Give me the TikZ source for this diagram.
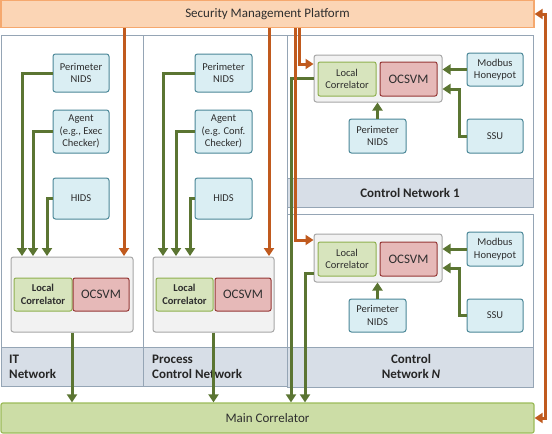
\documentclass[tikz,border=0pt]{standalone}
\usepackage{fontspec}
\setmainfont{Carlito}
\usetikzlibrary{arrows.meta}
\definecolor{bluF}{HTML}{DAEEF3}
\definecolor{bluB}{HTML}{4A8797}
\definecolor{lcF}{HTML}{D7E4BD}
\definecolor{lcB}{HTML}{8FB04F}
\definecolor{ocF}{HTML}{E6B9B8}
\definecolor{ocB}{HTML}{953735}
\definecolor{lbF}{HTML}{F2F2F2}
\definecolor{lbB}{HTML}{A6A6A6}
\definecolor{panB}{HTML}{95A5B5}
\definecolor{bandF}{HTML}{D7DEE7}
\definecolor{smpF}{HTML}{FBD5B5}
\definecolor{smpB}{HTML}{F5A86E}
\definecolor{mcF}{HTML}{CCDDA6}
\definecolor{mcB}{HTML}{9BBB59}
\definecolor{garr}{HTML}{5B7532}
\definecolor{oarr}{HTML}{C05A1E}
\definecolor{txt}{HTML}{2E2E2E}
\tikzset{
  blu/.style={draw=bluB, fill=bluF, rounded corners=2.5pt, line width=1pt, align=center, text=txt, inner sep=0pt, font=\fontsize{10.5}{12.5}\selectfont},
  lcbox/.style={draw=lcB, fill=lcF, rounded corners=2pt, line width=1pt, align=center, text=txt, inner sep=0pt, font=\fontsize{10.5}{12.5}\selectfont},
  ocbox/.style={draw=ocB, fill=ocF, rounded corners=2pt, line width=1pt, align=center, text=txt, inner sep=0pt, font=\fontsize{13}{15}\selectfont},
  lbox/.style={draw=lbB, fill=lbF, rounded corners=2.5pt, line width=1pt, inner sep=0pt},
  panel/.style={draw=panB, fill=white, line width=1pt},
  band/.style={draw=panB, fill=bandF, line width=1pt},
  bandtxt/.style={font=\fontsize{13}{15}\selectfont\bfseries, text=black!85, inner sep=0pt},
  garrow/.style={draw=garr, line width=3pt, -{Triangle[length=8pt,width=10pt]}},
  oarrow/.style={draw=oarr, line width=3pt, -{Triangle[length=8pt,width=10pt]}},
  obidir/.style={draw=oarr, line width=3pt, {Triangle[length=8pt,width=10pt]}-{Triangle[length=8pt,width=10pt]}},
}
\begin{document}
\begin{tikzpicture}[x=1pt,y=-1pt]
\useasboundingbox (0,0) rectangle (552,434);
% panels
\draw[panel] (1,35) rectangle (143,386);
\draw[band] (1,347) rectangle (143,386);
\draw[panel] (143,35) rectangle (287,386);
\draw[band] (143,347) rectangle (287,386);
\draw[panel] (287,35) rectangle (533,207);
\draw[band] (287,178) rectangle (533,207);
\draw[panel] (287,214) rectangle (533,387);
\draw[band] (287,347) rectangle (533,387);
\node[bandtxt, anchor=west, align=left] (itlab) at (9,366.5) {IT\\Network};
\node[bandtxt, anchor=west, align=left] (pclab) at (152,366.5) {Process\\Control Network};
\node[bandtxt] (cn1lab) at (410,193) {Control Network 1};
\node[bandtxt, align=center] (cnnlab) at (411,366.5) {Control\\Network \textit{N}};
% top and bottom bars
\node[draw=smpB, fill=smpF, line width=1.2pt, minimum width=533pt, minimum height=27pt, inner sep=0pt, text=txt, font=\fontsize{13}{15}\selectfont] (smp) at (267.5,14) {Security Management Platform};
\node[draw=mcB, fill=mcF, line width=1.2pt, rounded corners=2pt, minimum width=533pt, minimum height=30pt, inner sep=0pt, text=txt, font=\fontsize{13}{15}\selectfont] (mc) at (267.5,418) {Main Correlator};
% IT network
\node[blu, minimum width=56pt, minimum height=38pt] (itnids) at (81,73) {Perimeter\\NIDS};
\node[blu, minimum width=56pt, minimum height=43pt] (itag) at (81,131.5) {Agent\\(e.g., Exec\\Checker)};
\node[blu, minimum width=56pt, minimum height=41pt] (ithids) at (81,198.5) {HIDS};
\node[lbox, minimum width=122pt, minimum height=75pt] (itlb) at (72,294.5) {};
\node[lcbox, minimum width=58pt, minimum height=33pt, font=\fontsize{10.5}{12.5}\selectfont\bfseries] (itlc) at (43,294.5) {Local\\Correlator};
\node[ocbox, minimum width=56pt, minimum height=33pt] (itoc) at (101,294.5) {OCSVM};
% Process control network
\node[blu, minimum width=57pt, minimum height=38pt] (pcnids) at (223.5,73) {Perimeter\\NIDS};
\node[blu, minimum width=57pt, minimum height=43pt] (pcag) at (223.5,131.5) {Agent\\(e.g. Conf.\\Checker)};
\node[blu, minimum width=57pt, minimum height=41pt] (pchids) at (223.5,198.5) {HIDS};
\node[lbox, minimum width=121pt, minimum height=75pt] (pclb) at (213.5,294.5) {};
\node[lcbox, minimum width=57pt, minimum height=33pt, font=\fontsize{10.5}{12.5}\selectfont\bfseries] (pclc) at (184.5,294.5) {Local\\Correlator};
\node[ocbox, minimum width=56pt, minimum height=33pt] (pcoc) at (243,294.5) {OCSVM};
% Control network 1
\node[lbox, minimum width=128pt, minimum height=47pt] (cn1lb) at (378,78.5) {};
\node[lcbox, minimum width=58pt, minimum height=34pt] (cn1lc) at (347,79) {Local\\Correlator};
\node[ocbox, minimum width=57pt, minimum height=34pt] (cn1oc) at (408.5,79) {OCSVM};
\node[blu, minimum width=56pt, minimum height=33pt] (cn1mb) at (495,69.5) {Modbus\\Honeypot};
\node[blu, minimum width=56pt, minimum height=34pt] (cn1ssu) at (495,136) {SSU};
\node[blu, minimum width=57pt, minimum height=34pt] (cn1pn) at (377.5,136) {Perimeter\\NIDS};
% Control network N
\node[lbox, minimum width=128pt, minimum height=48pt] (cnnlb) at (378,258) {};
\node[lcbox, minimum width=58pt, minimum height=34pt] (cnnlc) at (347,259) {Local\\Correlator};
\node[ocbox, minimum width=57pt, minimum height=34pt] (cnnoc) at (408.5,259) {OCSVM};
\node[blu, minimum width=56pt, minimum height=34pt] (cnnmb) at (495,249) {Modbus\\Honeypot};
\node[blu, minimum width=56pt, minimum height=33pt] (cnnssu) at (495,315.5) {SSU};
\node[blu, minimum width=57pt, minimum height=33pt] (cnnpn) at (377.5,315.5) {Perimeter\\NIDS};
% helper coordinates
\coordinate (itg1) at (22,256);
\coordinate (itg2) at (33,256);
\coordinate (itg3) at (47,256);
\coordinate (ito) at (124,256);
\coordinate (pcg1) at (163,256);
\coordinate (pcg2) at (176,256);
\coordinate (pcg3) at (190,256);
\coordinate (pco) at (269,256);
\coordinate (cn1o) at (299,64);
\coordinate (cnno) at (295,240);
\coordinate (cn1g) at (291,78);
\coordinate (cnng) at (305,273);
\coordinate (cn1s) at (459,89);
\coordinate (cnns) at (459,268);
\coordinate (fb) at (545,200);
% IT arrows
\draw[garrow] (itnids.west) -| (itg1);
\draw[garrow] (itag.west) -| (itg2);
\draw[garrow] (ithids.west) -| (itg3);
\draw[oarrow] (smp.south -| ito) -- (ito);
\draw[garrow] (itlb.south) -- (itlb.south |- mc.north);
% Process arrows
\draw[garrow] (pcnids.west) -| (pcg1);
\draw[garrow] (pcag.west) -| (pcg2);
\draw[garrow] (pchids.west) -| (pcg3);
\draw[oarrow] (smp.south -| pco) -- (pco);
\draw[garrow] (pclb.south) -- (pclb.south |- mc.north);
% CN1 arrows
\draw[garrow] (cn1mb.west) -- (cn1mb.west -| cn1lb.east);
\draw[garrow] (cn1ssu.west) -| (cn1s) -- (cn1s -| cn1lb.east);
\draw[garrow] (cn1pn.north) -- (cn1pn.north |- cn1lb.south);
\draw[garrow] (cn1g -| cn1lb.west) -- (cn1g) -- (cn1g |- mc.north);
% CNN arrows
\draw[garrow] (cnnmb.west) -- (cnnmb.west -| cnnlb.east);
\draw[garrow] (cnnssu.west) -| (cnns) -- (cnns -| cnnlb.east);
\draw[garrow] (cnnpn.north) -- (cnnpn.north |- cnnlb.south);
\draw[garrow] (cnng -| cnnlb.west) -- (cnng) -- (cnng |- mc.north);
% orange to control networks
\draw[oarrow] (smp.south -| cnno) -- (cnno) -- (cnno -| cnnlb.west);
\draw[oarrow] (smp.south -| cn1o) -- (cn1o) -- (cn1o -| cn1lb.west);
% feedback
\draw[obidir] (mc.east) -| (fb) |- (smp.east);
\end{tikzpicture}
\end{document}
